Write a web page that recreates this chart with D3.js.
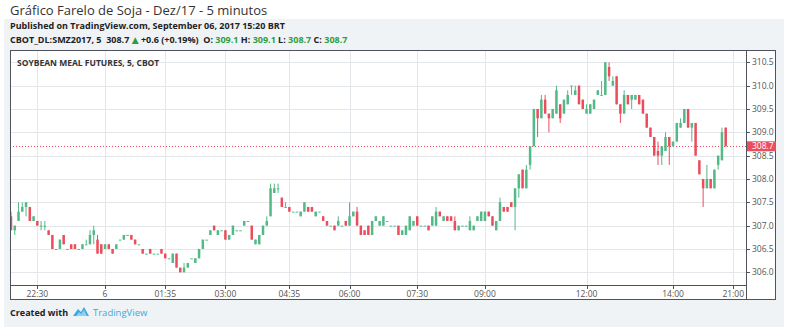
<!DOCTYPE html>
<html lang="pt">
<head>
<meta charset="UTF-8">
<title>Gráfico Farelo de Soja - Dez/17 - 5 minutos</title>
<script src="https://cdnjs.cloudflare.com/ajax/libs/d3/7.8.5/d3.min.js"></script>
<style>
    body { margin: 0; background: #fff; }
    svg text { font-family: 'Open Sans', 'DejaVu Sans', sans-serif; }
    .title { font-size: 13px; fill: #333; }
    .sub { font-size: 9px; font-weight: bold; fill: #222; }
    .axis-label { font-size: 8.5px; fill: #555; }
    .grid line { stroke: #e3e7ec; stroke-width: 1; }
</style>
</head>
<body>
<svg id="chart" width="790" height="331"></svg>
<script>
// OHLC, 5 minute bars
const opens = [
    307.2, 306.9, 307.1, 307.3, 307.4, 307.4, 307.1, 307.1, 307.0, 307.0,
    306.9, 306.8, 306.5, 306.5, 306.8, 306.5, 306.6, 306.6, 306.5, 306.5,
    306.6, 306.6, 306.8, 306.7, 306.6, 306.5, 306.6, 306.5, 306.5, 306.7,
    306.7, 306.8, 306.8, 306.7, 306.6, 306.5, 306.4, 306.5, 306.4, 306.4,
    306.5, 306.4, 306.3, 306.2, 306.4, 306.1, 306.0, 306.1, 306.3, 306.2,
    306.3, 306.5, 306.7, 306.8, 307.0, 306.8, 306.9, 306.9, 306.7, 306.8,
    306.9, 306.9, 307.0, 307.1, 307.0, 306.6, 306.6, 306.8, 307.0, 307.2,
    307.7, 307.8, 307.6, 307.4, 307.4, 307.3, 307.3, 307.2, 307.3, 307.4,
    307.4, 307.2, 307.3, 307.2, 307.1, 307.0, 307.0, 307.0, 307.0, 307.1,
    307.0, 307.2, 307.3, 307.0, 306.9, 307.0, 306.8, 307.1, 307.0, 307.0,
    307.1, 307.0, 307.0, 307.0, 306.8, 306.8, 306.9, 307.0, 307.2, 307.0,
    307.0, 307.0, 307.0, 307.0, 307.3, 307.1, 307.2, 307.2, 307.1, 306.9,
    307.0, 307.0, 306.9, 306.9, 307.1, 307.1, 307.1, 307.3, 307.2, 306.9,
    307.1, 307.4, 307.4, 307.5, 307.4, 307.8, 308.2, 307.8, 308.3, 308.7,
    309.5, 309.3, 309.7, 309.4, 309.3, 309.4, 309.6, 309.4, 309.6, 310.0,
    309.8, 310.0, 309.7, 309.4, 309.4, 309.5, 309.8, 309.8, 309.8, 310.4,
    310.0, 310.2, 309.6, 309.4, 309.8, 309.7, 309.7, 309.8, 309.7, 309.4,
    309.1, 308.9, 308.6, 308.5, 308.6, 308.9, 308.7, 308.8, 309.1, 309.2,
    309.5, 309.1, 309.2, 308.4, 308.0, 307.8, 308.0, 307.8, 308.3, 308.4,
    309.1
];
const highs = [
    307.3, 307.0, 307.5, 307.5, 307.5, 307.4, 307.2, 307.1, 307.1, 307.1,
    306.9, 306.8, 306.5, 306.7, 306.8, 306.5, 306.6, 306.6, 306.5, 306.6,
    306.7, 306.9, 307.0, 306.8, 306.6, 306.6, 306.6, 306.5, 306.6, 306.7,
    306.8, 306.8, 306.8, 306.7, 306.6, 306.5, 306.4, 306.5, 306.4, 306.4,
    306.5, 306.4, 306.3, 306.4, 306.4, 306.1, 306.2, 306.2, 306.3, 306.3,
    306.5, 306.7, 306.7, 306.9, 307.0, 306.9, 306.9, 306.9, 306.8, 307.0,
    306.9, 306.9, 307.1, 307.1, 307.0, 306.7, 306.8, 307.0, 307.2, 307.9,
    307.9, 307.9, 307.6, 307.5, 307.4, 307.3, 307.3, 307.3, 307.5, 307.4,
    307.4, 307.3, 307.3, 307.2, 307.1, 307.0, 307.0, 307.2, 307.0, 307.1,
    307.5, 307.3, 307.4, 307.0, 306.9, 307.0, 307.1, 307.2, 307.1, 307.2,
    307.1, 307.0, 307.0, 307.0, 306.9, 307.0, 307.2, 307.1, 307.2, 307.0,
    307.0, 307.0, 307.2, 307.4, 307.3, 307.2, 307.2, 307.2, 307.2, 307.0,
    307.0, 307.0, 307.2, 307.0, 307.2, 307.3, 307.3, 307.3, 307.2, 307.1,
    307.6, 307.4, 307.4, 307.5, 307.8, 308.1, 308.2, 308.3, 308.7, 309.5,
    309.5, 309.8, 309.8, 309.4, 309.5, 310.0, 309.6, 309.7, 309.9, 310.0,
    310.0, 310.0, 309.7, 309.6, 309.6, 309.7, 309.9, 310.1, 310.5, 310.5,
    310.2, 310.2, 309.6, 309.9, 309.8, 309.8, 309.8, 309.8, 309.7, 309.4,
    309.1, 308.9, 308.8, 308.7, 309.0, 308.9, 308.8, 309.2, 309.3, 309.5,
    309.5, 309.2, 309.2, 308.4, 308.0, 308.3, 308.0, 308.2, 308.5, 309.1,
    309.1
];
const lows = [
    306.9, 306.8, 307.1, 307.3, 307.2, 307.1, 307.1, 307.0, 306.9, 306.9,
    306.8, 306.5, 306.5, 306.5, 306.6, 306.5, 306.5, 306.5, 306.5, 306.5,
    306.6, 306.6, 306.6, 306.4, 306.4, 306.5, 306.5, 306.4, 306.5, 306.7,
    306.7, 306.8, 306.7, 306.6, 306.6, 306.4, 306.4, 306.4, 306.4, 306.4,
    306.4, 306.3, 306.3, 306.2, 306.1, 306.0, 306.0, 306.1, 306.3, 306.2,
    306.3, 306.5, 306.7, 306.8, 306.9, 306.8, 306.9, 306.7, 306.7, 306.8,
    306.9, 306.9, 307.0, 307.1, 306.7, 306.6, 306.6, 306.8, 307.0, 307.2,
    307.7, 307.7, 307.4, 307.4, 307.3, 307.3, 307.3, 307.2, 307.3, 307.3,
    307.3, 307.2, 307.3, 307.1, 307.0, 307.0, 306.9, 307.0, 307.0, 307.0,
    307.0, 307.2, 307.0, 306.8, 306.8, 306.8, 306.8, 307.1, 307.0, 307.0,
    307.1, 307.0, 307.0, 306.8, 306.8, 306.8, 306.9, 307.0, 307.0, 307.0,
    307.0, 306.9, 307.0, 307.0, 307.2, 307.1, 307.1, 307.1, 306.9, 306.9,
    307.0, 307.0, 306.9, 306.9, 307.1, 307.1, 307.1, 307.2, 307.0, 306.9,
    307.1, 307.3, 307.3, 307.4, 306.9, 307.6, 307.8, 307.8, 308.2, 308.7,
    308.9, 309.3, 309.4, 309.0, 309.3, 309.4, 309.2, 309.4, 309.6, 309.8,
    309.8, 309.6, 309.5, 309.4, 309.4, 309.5, 309.8, 309.8, 309.8, 310.1,
    310.0, 309.6, 309.2, 309.4, 309.6, 309.5, 309.7, 309.6, 309.4, 309.1,
    308.9, 308.5, 308.3, 308.3, 308.6, 308.3, 308.7, 308.8, 309.1, 309.2,
    309.1, 308.8, 308.5, 308.1, 307.4, 307.8, 307.8, 307.8, 308.2, 308.4,
    308.7
];
const closes = [
    306.9, 307.0, 307.3, 307.4, 307.5, 307.1, 307.2, 307.0, 307.0, 307.0,
    306.8, 306.5, 306.5, 306.7, 306.6, 306.5, 306.5, 306.5, 306.5, 306.6,
    306.6, 306.8, 306.9, 306.4, 306.4, 306.6, 306.5, 306.4, 306.6, 306.7,
    306.8, 306.8, 306.7, 306.6, 306.6, 306.4, 306.4, 306.4, 306.4, 306.4,
    306.4, 306.3, 306.3, 306.4, 306.1, 306.0, 306.1, 306.2, 306.3, 306.3,
    306.5, 306.7, 306.7, 306.9, 306.9, 306.9, 306.9, 306.7, 306.8, 307.0,
    306.9, 306.9, 307.1, 307.1, 306.7, 306.7, 306.8, 307.0, 307.1, 307.8,
    307.8, 307.8, 307.4, 307.4, 307.3, 307.3, 307.3, 307.3, 307.5, 307.3,
    307.3, 307.3, 307.3, 307.1, 307.0, 307.0, 306.9, 307.1, 307.0, 307.0,
    307.2, 307.3, 307.0, 306.8, 306.8, 306.8, 307.1, 307.2, 307.1, 307.2,
    307.1, 307.0, 307.0, 306.8, 306.9, 307.0, 307.2, 307.1, 307.0, 307.0,
    307.0, 306.9, 307.2, 307.3, 307.2, 307.2, 307.1, 307.1, 306.9, 307.0,
    307.0, 307.0, 307.1, 307.0, 307.2, 307.3, 307.3, 307.2, 307.0, 307.1,
    307.5, 307.3, 307.3, 307.4, 307.8, 308.1, 307.8, 308.2, 308.7, 309.5,
    309.3, 309.7, 309.4, 309.3, 309.5, 309.9, 309.3, 309.7, 309.8, 310.0,
    309.9, 309.6, 309.5, 309.5, 309.6, 309.7, 309.9, 309.8, 310.5, 310.2,
    310.1, 309.6, 309.4, 309.8, 309.6, 309.8, 309.8, 309.6, 309.4, 309.1,
    308.9, 308.5, 308.5, 308.7, 308.9, 308.7, 308.8, 309.2, 309.2, 309.5,
    309.1, 309.2, 308.5, 308.1, 307.8, 308.0, 307.8, 308.2, 308.5, 309.0,
    308.7
];
const timeTicks = [7, 25, 41, 57, 74, 90, 108, 126, 153, 176, 192];
const timeLabels = ["22:30", "6", "01:35", "03:00", "04:35", "06:00", "07:30", "09:00", "12:00", "14:00", "21:00"];
const priceTicks = [306.0, 306.5, 307.0, 307.5, 308.0, 308.5, 309.0, 309.5, 310.0, 310.5];
const lastPrice = 308.7;

const upColor = "#53b987";
const downColor = "#eb4d5c";
const green = "#2c9e3f";

const svg = d3.select("#chart");

// plot box
const paneLeft = 10, paneRight = 746, paneTop = 50, paneBottom = 285, boxRight = 776, boxBottom = 300;

const x = d3.scaleLinear().domain([0, 190]).range([11, 725.7]);
const y = d3.scaleLinear().domain([306, 310.5]).range([272.3, 62.3]);

// page panel background
svg.append("rect").attr("x", 4).attr("y", 19).attr("width", 780).attr("height", 308).attr("fill", "#f0f3f6");
svg.append("rect").attr("x", paneLeft).attr("y", paneTop).attr("width", boxRight - paneLeft).attr("height", boxBottom - paneTop)
    .attr("fill", "#fff");

// header texts
svg.append("text").attr("class", "title").attr("x", 10).attr("y", 15).text("Gráfico Farelo de Soja - Dez/17 - 5 minutos");
svg.append("text").attr("class", "sub").attr("x", 10).attr("y", 29)
    .text("Published on TradingView.com, September 06, 2017 15:20 BRT");

const info = svg.append("text").attr("class", "sub").attr("x", 10).attr("y", 43);
const parts = [
    ["CBOT_DL:SMZ2017, 5  308.7 ", "#222"], ["▲", green], [" +0.6 (+0.19%)  O: ", "#222"], ["309.1", green],
    [" H: ", "#222"], ["309.1", green], [" L: ", "#222"], ["308.7", green], [" C: ", "#222"], ["308.7", green]
];
parts.forEach(p => info.append("tspan").attr("fill", p[1]).attr("xml:space", "preserve").text(p[0]));

// grid
const grid = svg.append("g").attr("class", "grid");
grid.selectAll(".h").data(priceTicks).join("line")
    .attr("x1", paneLeft).attr("x2", paneRight)
    .attr("y1", d => Math.round(y(d)) + 0.5).attr("y2", d => Math.round(y(d)) + 0.5);
grid.selectAll(".v").data(timeTicks).join("line")
    .attr("y1", paneTop).attr("y2", paneBottom)
    .attr("x1", d => Math.round(x(d)) + 0.5).attr("x2", d => Math.round(x(d)) + 0.5);

// chart title inside pane
svg.append("text").attr("x", 17).attr("y", 66).attr("font-size", "8.5px").attr("font-weight", "bold")
    .attr("fill", "#333").text("SOYBEAN MEAL FUTURES, 5, CBOT");

// last price dotted line
svg.append("line").attr("x1", paneLeft).attr("x2", paneRight)
    .attr("y1", Math.round(y(lastPrice)) + 0.5).attr("y2", Math.round(y(lastPrice)) + 0.5)
    .attr("stroke", downColor).attr("stroke-width", 1).attr("stroke-dasharray", "1,2");

// candles
svg.append("clipPath").attr("id", "pane").append("rect")
    .attr("x", paneLeft).attr("y", paneTop).attr("width", paneRight - paneLeft).attr("height", paneBottom - paneTop);
const candles = svg.append("g").attr("clip-path", "url(#pane)");
const idx = d3.range(opens.length);
const col = i => closes[i] >= opens[i] ? upColor : downColor;

candles.selectAll(".wick").data(idx).join("line")
    .attr("x1", i => x(i)).attr("x2", i => x(i))
    .attr("y1", i => y(highs[i])).attr("y2", i => y(lows[i]))
    .attr("stroke", col).attr("stroke-width", 1);

candles.selectAll(".body").data(idx).join("rect")
    .attr("x", i => x(i) - 1.25).attr("width", 2.5)
    .attr("y", i => y(Math.max(opens[i], closes[i])))
    .attr("height", i => Math.max(1, Math.abs(y(opens[i]) - y(closes[i]))))
    .attr("fill", col);

// frame
const frame = svg.append("g").attr("stroke", "#50535e").attr("stroke-width", 1).attr("fill", "none");
frame.append("rect").attr("x", paneLeft + 0.5).attr("y", paneTop + 0.5)
    .attr("width", boxRight - paneLeft - 1).attr("height", boxBottom - paneTop - 1);
frame.append("line").attr("x1", paneLeft).attr("x2", paneRight).attr("y1", paneBottom + 0.5).attr("y2", paneBottom + 0.5);
frame.append("line").attr("x1", paneRight + 0.5).attr("x2", paneRight + 0.5).attr("y1", paneTop).attr("y2", boxBottom);

// price axis
const pAxis = svg.append("g");
pAxis.selectAll("line").data(priceTicks).join("line")
    .attr("x1", paneRight).attr("x2", paneRight + 4)
    .attr("y1", d => Math.round(y(d)) + 0.5).attr("y2", d => Math.round(y(d)) + 0.5)
    .attr("stroke", "#50535e");
pAxis.selectAll("text").data(priceTicks).join("text")
    .attr("class", "axis-label").attr("x", paneRight + 6).attr("y", d => y(d)).attr("dy", "0.35em")
    .text(d => d.toFixed(1));

// last price tag
svg.append("rect").attr("x", paneRight + 1).attr("y", y(lastPrice) - 5).attr("width", 29).attr("height", 10)
    .attr("fill", downColor);
svg.append("text").attr("x", paneRight + 6).attr("y", y(lastPrice)).attr("dy", "0.35em")
    .attr("font-size", "8.5px").attr("fill", "#fff").text(lastPrice.toFixed(1));

// time axis
const tAxis = svg.append("g");
tAxis.selectAll("line").data(timeTicks).join("line")
    .attr("x1", d => Math.round(x(d)) + 0.5).attr("x2", d => Math.round(x(d)) + 0.5)
    .attr("y1", paneBottom).attr("y2", paneBottom + 4).attr("stroke", "#50535e");
tAxis.selectAll("text").data(timeTicks).join("text")
    .attr("class", "axis-label").attr("x", d => x(d)).attr("y", paneBottom + 12).attr("text-anchor", "middle")
    .text((d, i) => timeLabels[i]);

// footer
svg.append("text").attr("x", 10).attr("y", 316).attr("font-size", "9px").attr("font-weight", "bold")
    .attr("fill", "#222").text("Created with");
const logo = svg.append("g").attr("transform", "translate(73,306)").attr("fill", "#3aa9e0");
logo.append("path").attr("d", "M0,10 L5,3 L8,6 L11,1 L16,10 Z");
logo.append("path").attr("d", "M3,10 L6,6 L8,8 L11,4 L14,10 Z").attr("fill", "#8fd0f0");
svg.append("text").attr("x", 93).attr("y", 316).attr("font-size", "9.5px").attr("fill", "#3aa9e0").text("TradingView");
</script>
</body>
</html>
